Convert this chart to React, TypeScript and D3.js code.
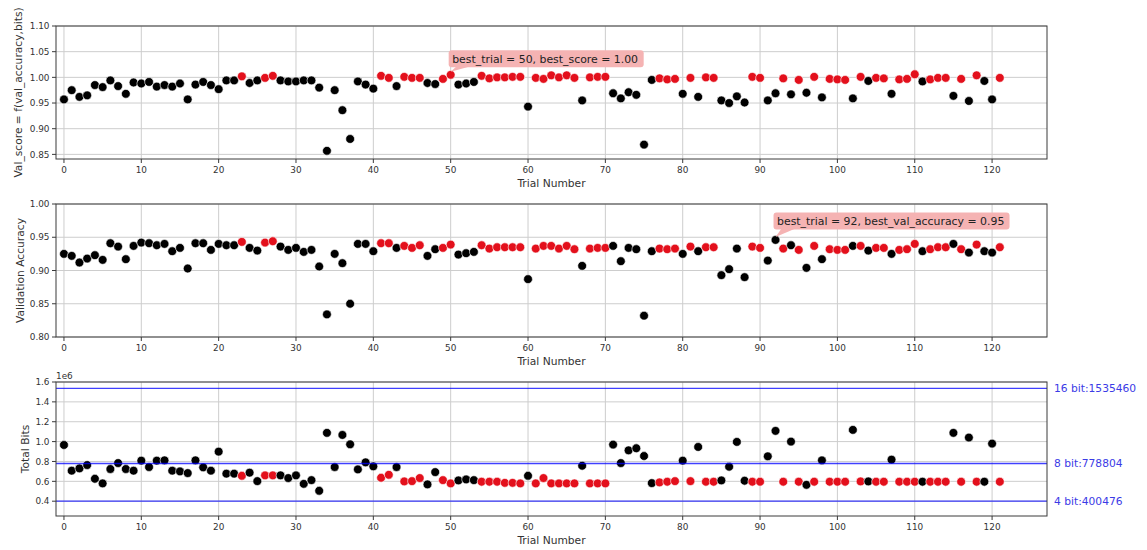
import React from "react";
import * as d3 from "d3";

// values, one per trial (0..121)
const valScore = [
  0.957, 0.975, 0.962, 0.965, 0.985, 0.981, 0.994, 0.983, 0.968, 0.99,
  0.988, 0.991, 0.982, 0.985, 0.982, 0.988, 0.957, 0.986, 0.991, 0.985,
  0.977, 0.994, 0.994, 1.002, 0.989, 0.994, 0.999, 1.003, 0.994, 0.992,
  0.992, 0.994, 0.994, 0.98, 0.857, 0.975, 0.936, 0.88, 0.992, 0.986,
  0.978, 1.003, 0.999, 0.983, 1.001, 0.999, 0.999, 0.989, 0.987, 0.997,
  1.005, 0.986, 0.988, 0.991, 1.003, 0.998, 1.0, 1.0, 1.001, 1.001,
  0.943, 0.999, 0.997, 1.004, 1.0, 1.004, 0.999, 0.955, 1.0, 1.001,
  1.001, 0.969, 0.959, 0.971, 0.966, 0.869, 0.995, 0.998, 0.996, 0.997,
  0.968, 0.999, 0.962, 1.0, 0.999, 0.955, 0.95, 0.963, 0.951, 1.001,
  0.999, 0.955, 0.969, 0.998, 0.967, 0.995, 0.97, 1.001, 0.961, 0.997,
  0.996, 0.995, 0.959, 1.001, 0.993, 0.999, 0.998, 0.968, 0.996, 0.997,
  1.006, 0.992, 0.996, 0.999, 0.999, 0.964, 0.997, 0.954, 1.004, 0.993,
  0.957, 0.999,
];

const valAccuracy = [
  0.925, 0.922, 0.912, 0.918, 0.923, 0.916, 0.941, 0.936, 0.917, 0.937,
  0.942, 0.941, 0.938, 0.94, 0.929, 0.934, 0.903, 0.941, 0.941, 0.931,
  0.94, 0.938, 0.938, 0.943, 0.934, 0.93, 0.942, 0.944, 0.936, 0.931,
  0.934, 0.928, 0.931, 0.906, 0.834, 0.925, 0.911, 0.85, 0.94, 0.94,
  0.929, 0.941, 0.941, 0.934, 0.937, 0.934, 0.938, 0.922, 0.932, 0.934,
  0.939, 0.924, 0.926, 0.928, 0.938, 0.933, 0.935, 0.935, 0.935, 0.935,
  0.887, 0.933, 0.937, 0.937, 0.933, 0.937, 0.932, 0.907, 0.933, 0.934,
  0.934, 0.937, 0.914, 0.934, 0.932, 0.832, 0.929, 0.933, 0.932, 0.933,
  0.925, 0.936, 0.929, 0.935, 0.935, 0.893, 0.902, 0.933, 0.89, 0.936,
  0.934, 0.915, 0.946, 0.933, 0.938, 0.931, 0.904, 0.937, 0.917, 0.932,
  0.931, 0.931, 0.937, 0.937, 0.93, 0.934, 0.934, 0.925, 0.931, 0.932,
  0.94, 0.929, 0.932, 0.935, 0.935, 0.94, 0.932, 0.927, 0.939, 0.929,
  0.927, 0.935,
];

const totalBits = [
  966000, 707000, 730000, 764000, 626000, 579000, 724000, 784000, 724000, 707000,
  808000, 744000, 808000, 811000, 707000, 700000, 683000, 811000, 741000, 707000,
  899000, 677000, 677000, 656000, 687000, 602000, 660000, 660000, 660000, 633000,
  660000, 575000, 612000, 505000, 1088000, 744000, 1067000, 973000, 720000, 791000,
  751000, 636000, 666000, 744000, 599000, 602000, 633000, 569000, 693000, 612000,
  579000, 609000, 619000, 612000, 596000, 596000, 596000, 585000, 585000, 579000,
  656000, 579000, 633000, 579000, 579000, 579000, 579000, 757000, 579000, 579000,
  579000, 970000, 784000, 912000, 933000, 855000, 582000, 589000, 596000, 602000,
  808000, 602000, 946000, 596000, 596000, 609000, 747000, 997000, 606000, 596000,
  596000, 852000, 1108000, 596000, 1000000, 596000, 565000, 596000, 811000, 596000,
  596000, 596000, 1118000, 599000, 599000, 596000, 596000, 818000, 596000, 596000,
  596000, 596000, 596000, 596000, 596000, 1088000, 596000, 1041000, 596000, 596000,
  980000, 596000,
];

// trials drawn in red
const redTrials = [
  23, 26, 27, 41, 42, 44, 45, 46, 49, 50, 54, 55, 56, 57, 58, 59, 61, 62, 63,
  64, 65, 66, 68, 69, 70, 77, 78, 79, 81, 83, 84, 89, 90, 93, 95, 97, 99, 100,
  101, 103, 105, 106, 108, 109, 110, 112, 113, 114, 116, 118, 121,
];

const xTicks = [0, 10, 20, 30, 40, 50, 60, 70, 80, 90, 100, 110, 120];
const scoreTicks = [0.85, 0.9, 0.95, 1.0, 1.05, 1.1];
const accTicks = [0.8, 0.85, 0.9, 0.95, 1.0];
const bitsTicks = [400000, 600000, 800000, 1000000, 1200000, 1400000, 1600000];

const bitLines = [1535460, 778804, 400476];
const bitLineLabels = ["16 bit:1535460", "8 bit:778804", "4 bit:400476"];

const FONT = "DejaVu Sans, sans-serif";
const W = 1147;
const H = 550;
const LEFT = 56;
const RIGHT = 1047;

const x = d3.scaleLinear().domain([-1.03, 127.1]).range([LEFT, RIGHT]);
const redSet = new Set(redTrials);

type PanelProps = {
  top: number;
  bottom: number;
  values: number[];
  yDomain: [number, number];
  yTicks: number[];
  yFmt: (v: number) => string;
  yLabel: string;
  yLabelX: number;
  note?: { trial: number; text: string; dy: number; width: number };
  hLines?: number[];
  hLabels?: string[];
  offsetText?: string;
};

function Panel(p: PanelProps) {
  const y = d3.scaleLinear().domain(p.yDomain).range([p.bottom, p.top]);
  const order = p.values.map((v, i) => i);
  return (
    <g>
      {xTicks.map((t) => (
        <line key={"gx" + t} x1={x(t)} x2={x(t)} y1={p.top} y2={p.bottom} stroke="#cdcdcd" strokeWidth={1} />
      ))}
      {p.yTicks.map((t) => (
        <line key={"gy" + t} x1={LEFT} x2={RIGHT} y1={y(t)} y2={y(t)} stroke="#cdcdcd" strokeWidth={1} />
      ))}
      {order.map((i) => (
        <circle
          key={i}
          cx={x(i)}
          cy={y(p.values[i])}
          r={4.4}
          fill={redSet.has(i) ? "#e3101c" : "#000"}
          stroke="#fff"
          strokeWidth={0.6}
        />
      ))}
      {(p.hLines || []).map((v, k) => (
        <g key={"hl" + k}>
          <line x1={LEFT} x2={RIGHT} y1={y(v)} y2={y(v)} stroke="#0000ff" strokeOpacity={0.75} strokeWidth={1.4} />
          <text x={RIGHT + 7} y={y(v)} dy="0.36em" fontSize={10.7} fill="#3b3be6" fontFamily={FONT}>
            {p.hLabels![k]}
          </text>
        </g>
      ))}
      <rect x={LEFT} y={p.top} width={RIGHT - LEFT} height={p.bottom - p.top} fill="none" stroke="#3a3a3a" strokeWidth={1} />
      {xTicks.map((t) => (
        <g key={"tx" + t}>
          <line x1={x(t)} x2={x(t)} y1={p.bottom} y2={p.bottom + 4} stroke="#3a3a3a" />
          <text x={x(t)} y={p.bottom + 14} textAnchor="middle" fontSize={8.9} fill="#333" fontFamily={FONT}>
            {t}
          </text>
        </g>
      ))}
      {p.yTicks.map((t) => (
        <g key={"ty" + t}>
          <line x1={LEFT - 4} x2={LEFT} y1={y(t)} y2={y(t)} stroke="#3a3a3a" />
          <text x={LEFT - 6.5} y={y(t)} dy="0.36em" textAnchor="end" fontSize={8.9} fill="#333" fontFamily={FONT}>
            {p.yFmt(t)}
          </text>
        </g>
      ))}
      {p.offsetText && (
        <text x={LEFT} y={p.top - 3} fontSize={8.9} fill="#333" fontFamily={FONT}>
          {p.offsetText}
        </text>
      )}
      <text x={(LEFT + RIGHT) / 2} y={p.bottom + 28} textAnchor="middle" fontSize={10.7} fill="#333" fontFamily={FONT}>
        Trial Number
      </text>
      <text
        transform={`translate(${p.yLabelX},${(p.top + p.bottom) / 2}) rotate(-90)`}
        dy="0.36em"
        textAnchor="middle"
        fontSize={10.7}
        fill="#333"
        fontFamily={FONT}
      >
        {p.yLabel}
      </text>
      {p.note && <Note px={x(p.note.trial)} py={y(p.values[p.note.trial])} {...p.note} />}
    </g>
  );
}

function Note({ px, py, text, dy, width }: { px: number; py: number; text: string; dy: number; width: number }) {
  const bx = px - 2;
  const bb = py - dy;
  const bh = 17;
  return (
    <g>
      <path d={`M${px + 6},${bb - 1} L${px + 20},${bb - 1} L${px},${py - 3} Z`} fill="#f5b3b3" />
      <rect x={bx} y={bb - bh} width={width} height={bh} rx={3} fill="#f5b3b3" />
      <text x={bx + 3.5} y={bb - bh / 2} dy="0.36em" fontSize={10.9} fill="#222" fontFamily={FONT}>
        {text}
      </text>
    </g>
  );
}

export default function App() {
  return (
    <div style={{ position: "absolute", left: 0, top: 0 }}>
      <svg width={W} height={H} style={{ display: "block", background: "#fff" }}>
        <Panel
          top={26}
          bottom={159}
          values={valScore}
          yDomain={[0.841, 1.1]}
          yTicks={scoreTicks}
          yFmt={d3.format(".2f")}
          yLabel="Val_score = f(val_accuracy,bits)"
          yLabelX={18}
          note={{ trial: 50, text: "best_trial = 50, best_score = 1.00", dy: 7.5, width: 195 }}
        />
        <Panel
          top={204}
          bottom={337}
          values={valAccuracy}
          yDomain={[0.8, 1.0]}
          yTicks={accTicks}
          yFmt={d3.format(".2f")}
          yLabel="Validation Accuracy"
          yLabelX={20}
          note={{ trial: 92, text: "best_trial = 92, best_val_accuracy = 0.95", dy: 10.5, width: 236 }}
        />
        <Panel
          top={382}
          bottom={516}
          values={totalBits}
          yDomain={[251000, 1600000]}
          yTicks={bitsTicks}
          yFmt={(v) => d3.format(".1f")(v / 1e6)}
          yLabel="Total Bits"
          yLabelX={25}
          hLines={bitLines}
          hLabels={bitLineLabels}
          offsetText="1e6"
        />
      </svg>
    </div>
  );
}
